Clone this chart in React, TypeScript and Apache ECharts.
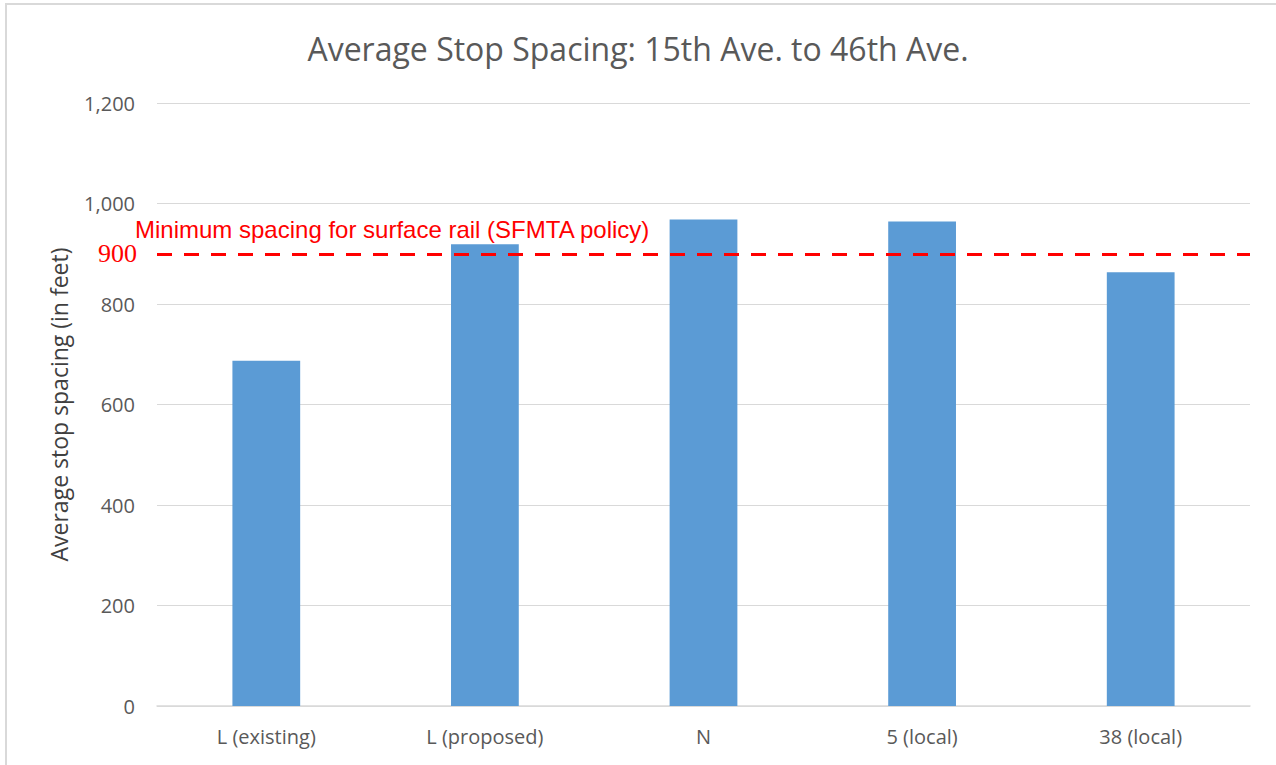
import React, { useEffect, useRef } from "react";
import * as echarts from "echarts";

const categories = ["L (existing)", "L (proposed)", "N", "5 (local)", "38 (local)"];
const spacingValues = [687, 919, 968, 964, 863];
const policyValue = 900;
const titleText = "Average Stop Spacing: 15th Ave. to 46th Ave.";
const yAxisName = "Average stop spacing (in feet)";
const policyText = "Minimum spacing for surface rail (SFMTA policy)";

export default function App() {
  const ref = useRef<HTMLDivElement>(null);
  useEffect(() => {
    if (!ref.current) return;
    const chart = echarts.init(ref.current, null, { renderer: "svg" });
    chart.setOption({
      animation: false,
      backgroundColor: "#ffffff",
      title: {
        text: titleText,
        left: "center",
        top: 27,
        textStyle: { fontFamily: "Open Sans", fontSize: 32, fontWeight: "normal", color: "#595959" },
      },
      grid: { left: 157, right: 26, top: 103, bottom: 59 },
      xAxis: {
        type: "category",
        data: categories,
        axisLine: { lineStyle: { color: "#d9d9d9", width: 1.5 } },
        axisTick: { show: false },
        axisLabel: { fontFamily: "Open Sans", fontSize: 20, color: "#595959", margin: 20 },
      },
      yAxis: {
        type: "value",
        min: 0,
        max: 1200,
        interval: 200,
        name: yAxisName,
        nameLocation: "middle",
        nameGap: 87,
        nameTextStyle: { fontFamily: "Open Sans", fontSize: 23, color: "#404040" },
        axisLine: { show: false },
        axisTick: { show: false },
        splitLine: { lineStyle: { color: "#d9d9d9", width: 1 } },
        axisLabel: {
          fontFamily: "Open Sans",
          fontSize: 20,
          color: "#595959",
          margin: 22,
          formatter: (v: number) => v.toLocaleString("en-US"),
        },
      },
      series: [
        {
          type: "bar",
          data: spacingValues,
          barWidth: "31%",
          itemStyle: { color: "#5b9bd5" },
          markLine: {
            symbol: "none",
            silent: true,
            lineStyle: { color: "#ff0000", type: [15, 12], width: 3 },
            label: {
              show: true,
              position: "start",
              distance: 20,
              formatter: String(policyValue),
              fontFamily: "Liberation Serif",
              fontSize: 26,
              color: "#ff0000",
            },
            data: [{ yAxis: policyValue }],
          },
        },
      ],
      graphic: [
        {
          type: "rect",
          silent: true,
          shape: { x: 6, y: 4, width: 1400, height: 900 },
          style: { fill: "none", stroke: "#d9d9d9", lineWidth: 2 },
        },
        {
          type: "text",
          left: 135,
          top: 217,
          style: {
            text: policyText,
            fontFamily: "Liberation Sans",
            fontSize: 24,
            fill: "#ff0000",
          },
        },
      ],
    });
    return () => chart.dispose();
  }, []);
  return <div ref={ref} style={{ position: "fixed", left: 0, top: 0, width: 1276, height: 765 }} />;
}
